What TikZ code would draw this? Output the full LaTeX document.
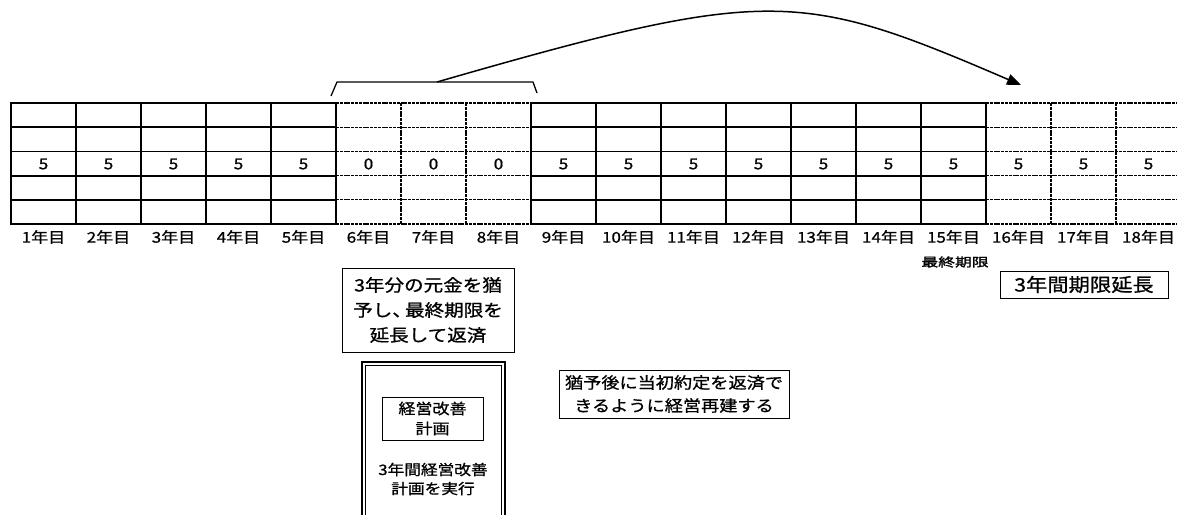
\documentclass[tikz,border=0pt]{standalone}
\usepackage{fontspec}
\setmainfont{Noto Sans CJK JP}[FakeStretch=1.15,FakeBold=0.9]
\newfontfamily\wideb{Noto Sans CJK JP}[FakeStretch=1.4,FakeBold=1.8]
\usetikzlibrary{arrows.meta}
\tikzset{
  solidline/.style={line width=1.8pt, line cap=rect},
  dashline/.style={line width=1.2pt, dash pattern=on 3pt off 0.8pt},
  lbl/.style={font=\fontsize{14.8}{16}\selectfont, inner sep=0pt},
  num/.style={font=\fontsize{15}{16}\selectfont, inner sep=0pt},
  box/.style={draw, line width=0.9pt, align=center, inner sep=0pt},
  bracketline/.style={line width=1.3pt, line join=round},
  arrowline/.style={line width=1.5pt, -{Triangle[length=14pt,width=11pt]}},
}
\begin{document}
\begin{tikzpicture}[x=1pt,y=-1pt]
\useasboundingbox (0,0) rectangle (1177,514);
% dashed parts of the grid
\foreach \r in {0,...,5} {
  \draw[dashline] (336,103+24.2*\r) -- (531,103+24.2*\r);
  \draw[dashline] (986,103+24.2*\r) -- (1177,103+24.2*\r);
}
\foreach \k in {6,7,16,17} {
  \draw[dashline] (11+65*\k,103) -- (11+65*\k,224);
}
% solid parts of the grid
\foreach \r in {0,...,5} {
  \draw[solidline] (11,103+24.2*\r) -- (336,103+24.2*\r);
  \draw[solidline] (531,103+24.2*\r) -- (986,103+24.2*\r);
}
\foreach \k in {0,...,5,8,9,...,15} {
  \draw[solidline] (11+65*\k,103) -- (11+65*\k,224);
}
% values and year labels
\foreach \k in {1,...,18} {
  \pgfmathtruncatemacro\cellval{(\k>5 && \k<9) ? 0 : 5}
  \node[num] (v\k) at (11+65*\k-32.5,164) {\cellval};
  \node[lbl] (y\k) at (11+65*\k-32.5,237) {\k{}年目};
}
\node[inner sep=0pt, font=\wideb\fontsize{12}{14}\selectfont] (limit) at (955,262) {最終期限};
% bracket and arrow
\draw[bracketline] (331,96) -- (337,82) -- (533,82) -- (537,93);
\coordinate (src) at (437,82);
\coordinate (dst) at (1021,85);
\draw[arrowline] (src) .. controls (770,-14) and (800,-10) .. (dst);
% text boxes
\node[box, minimum width=172pt, minimum height=84pt, font=\fontsize{17}{25}\selectfont] (defer) at (428,310)
  {3年分の元金を猶\\予し、\kern-0.4em最終期限を\\延長して返済};
\node[box, minimum width=230pt, minimum height=48pt, font=\fontsize{15.8}{23}\selectfont] (rebuild) at (674,394)
  {猶予後に当初約定を返済で\\きるように経営再建する};
\node[box, minimum width=168pt, minimum height=27pt, font=\fontsize{18.5}{20}\selectfont] (extend) at (1084,284.5)
  {3年間期限延長};
\node[draw, line width=1.8pt, minimum width=143pt, minimum height=158pt] (plan) at (433.5,441) {};
\draw[line width=0.8pt] ([shift={(4.5,4.5)}]plan.north west) rectangle ([shift={(-4.5,-4.5)}]plan.south east);
\node[box, minimum width=101pt, minimum height=43pt, font=\fontsize{14.8}{20}\selectfont] (planname) at (432.5,418.5)
  {経営改善\\計画};
\node[align=center, inner sep=0pt, font=\fontsize{14.5}{19}\selectfont] (plantext) at (433,479)
  {3年間経営改善\\計画を実行};
\end{tikzpicture}
\end{document}
